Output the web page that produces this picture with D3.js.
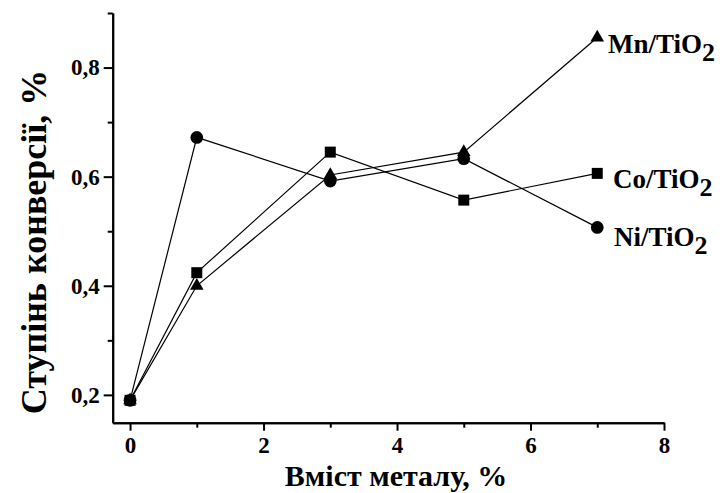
<!DOCTYPE html>
<html>
<head>
<meta charset="utf-8">
<script src="https://cdn.jsdelivr.net/npm/d3@7"></script>
<style>
body { margin: 0; background: #fff; }
</style>
</head>
<body>
<script>
// metal content, %
var xs = [0, 1, 3, 5, 7];
var mnVals = [0.19, 0.40, 0.603, 0.645, 0.855];
var coVals = [0.19, 0.424, 0.645, 0.557, 0.606];
var niVals = [0.19, 0.672, 0.592, 0.633, 0.507];
var seriesNames = ["Mn/TiO", "Co/TiO", "Ni/TiO"];
var xMajor = [0, 2, 4, 6, 8], xMinor = [1, 3, 5, 7];
var yMajor = [0.2, 0.4, 0.6, 0.8], yMinor = [0.3, 0.5, 0.7, 0.9];

var width = 725, height = 493;
var FONT = "'Liberation Serif', 'Times New Roman', serif";

var svg = d3.select("body").append("svg")
    .attr("width", width)
    .attr("height", height);

var xScale = d3.scaleLinear().domain([-0.26, 8]).range([112.7, 664]);
var yScale = d3.scaleLinear().domain([0.149, 0.9]).range([422.7, 13]);

var fmt = function (d) { return d3.format(".1f")(d).replace(".", ","); };

// axes
function styleAxis(g) {
    g.attr("font-family", null).attr("font-size", null);
    g.select(".domain").attr("stroke-width", 2).attr("stroke", "#000");
    g.selectAll(".tick line").attr("stroke-width", 2).attr("stroke", "#000");
    g.selectAll(".tick text").attr("fill", "#000")
        .style("font-family", FONT).style("font-weight", "bold").style("font-size", "23px");
}

svg.append("g")
    .attr("transform", "translate(0,422.7)")
    .call(d3.axisBottom(xScale).tickValues(xMinor).tickSize(5).tickSizeOuter(0).tickFormat(""))
    .call(styleAxis);
svg.append("g")
    .attr("transform", "translate(0,422.7)")
    .call(d3.axisBottom(xScale).tickValues(xMajor).tickSize(8).tickSizeOuter(0).tickPadding(6).tickFormat(d3.format("d")))
    .call(styleAxis);

svg.append("g")
    .attr("transform", "translate(112.7,0)")
    .call(d3.axisLeft(yScale).tickValues(yMinor).tickSize(5).tickSizeOuter(0).tickFormat(""))
    .call(styleAxis);
svg.append("g")
    .attr("transform", "translate(112.7,0)")
    .call(d3.axisLeft(yScale).tickValues(yMajor).tickSize(9).tickSizeOuter(0).tickPadding(4).tickFormat(fmt))
    .call(styleAxis);

function label(sel, size) {
    return sel.style("font-family", FONT).style("font-weight", "bold").style("font-size", size + "px");
}

// axis titles
label(svg.append("text"), 30)
    .attr("x", 396).attr("y", 486)
    .attr("text-anchor", "middle")
    .text("Вміст металу, %");

label(svg.append("text"), 36)
    .attr("transform", "translate(46,242) rotate(-90)")
    .attr("text-anchor", "middle")
    .text("Ступінь конверсії, %");

// series
var series = [
    {vals: mnVals, sym: d3.symbolTriangle, size: 80, lx: 608, ly: 53},
    {vals: coVals, sym: d3.symbolSquare, size: 121, lx: 613, ly: 188},
    {vals: niVals, sym: d3.symbolCircle, size: 127, lx: 614, ly: 246}
];

var line = d3.line()
    .x(function (d) { return xScale(d.x); })
    .y(function (d) { return yScale(d.y); });

series.forEach(function (s, k) {
    var data = xs.map(function (x, i) { return {x: x, y: s.vals[i]}; });

    svg.append("path")
        .attr("d", line(data))
        .attr("fill", "none")
        .attr("stroke", "#000")
        .attr("stroke-width", 1.2);

    svg.selectAll(".pt" + k)
        .data(data)
        .enter()
        .append("path")
        .attr("class", "pt" + k)
        .attr("d", d3.symbol().type(s.sym).size(s.size))
        .attr("transform", function (d) {
            return "translate(" + xScale(d.x) + "," + yScale(d.y) + ")";
        })
        .attr("fill", "#000");

    var t = label(svg.append("text"), 27)
        .attr("x", s.lx).attr("y", s.ly);
    t.append("tspan").text(seriesNames[k]);
    t.append("tspan").attr("dy", 8).style("font-size", "26px").text("2");
});
</script>
</body>
</html>
